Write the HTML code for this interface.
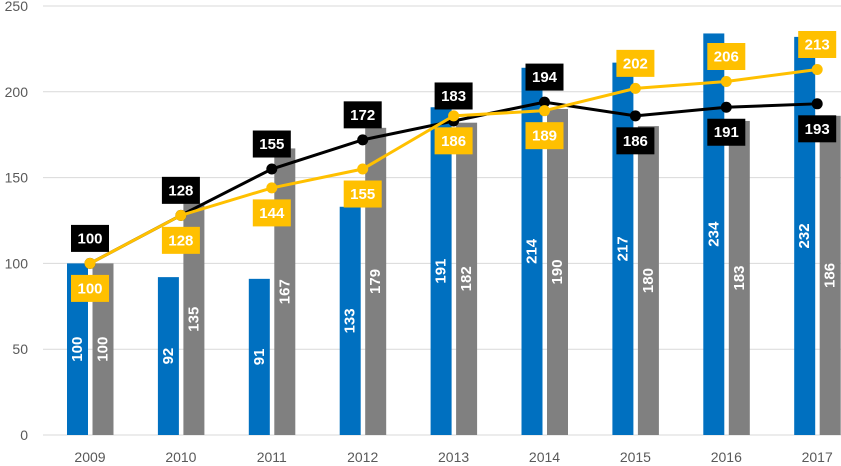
<!DOCTYPE html>
<html><head><meta charset="utf-8"><style>
html,body{margin:0;padding:0;background:#fff;}
svg{display:block;font-family:"Liberation Sans",Arial,sans-serif;}
</style></head><body>
<svg id="chart" width="841" height="466" viewBox="0 0 841 466"></svg>
<script>
const categories = ["2009","2010","2011","2012","2013","2014","2015","2016","2017"];
const blueValues = [100,92,91,133,191,214,217,234,232];
const grayValues = [100,135,167,179,182,190,180,183,186];
const blackLine = [100,128,155,172,183,194,186,191,193];
const goldLine = [100,128,144,155,186,189,202,206,213];
const yTicks = [0,50,100,150,200,250];

const svg = document.getElementById('chart');
const NS = 'http://www.w3.org/2000/svg';
const y0 = 435, yMax = 250, yTop = 6;
const x0 = 90, step = 90.9;
function yScale(v){ return y0 - v/yMax*(y0-yTop); }
function xScale(i){ return x0 + i*step; }
function mk(tag, attrs, parent){
  const e = document.createElementNS(NS, tag);
  for (const k in attrs) e.setAttribute(k, attrs[k]);
  (parent||svg).appendChild(e);
  return e;
}

yTicks.forEach(t=>{
  const g = mk('line',{x1:43,x2:841,y1:yScale(t),y2:yScale(t),stroke:'#d9d9d9','stroke-width':1});
  
  
  const tx = mk('text',{x:28,y:yScale(t)+5,'text-anchor':'end','font-size':14,fill:'#595959'});
  tx.textContent = t;
  
  
});

const bw = 21;
categories.forEach((c,i)=>{
  const cx = xScale(i);
  [[blueValues[i],'#0070c0',cx-23,'bar-blue-'],[grayValues[i],'#808080',cx+2.5,'bar-gray-']].forEach(([v,col,bx,nm])=>{
    const r = mk('rect',{x:bx,y:yScale(v),width:bw,height:y0-yScale(v),fill:col});
    
    
    const my = (yScale(v)+y0)/2, mx = bx+bw/2;
    const t = mk('text',{x:mx,y:my,'text-anchor':'middle','dominant-baseline':'central','font-size':15,'font-weight':'bold',fill:'#fff',transform:`rotate(-90 ${mx} ${my})`});
    t.textContent = v;
    
    
  });
  const xl = mk('text',{x:cx,y:462,'text-anchor':'middle','font-size':14,fill:'#595959'});
  xl.textContent = c;
  
  
});

function drawLine(vals,col,name){
  const pts = vals.map((v,i)=>xScale(i)+','+yScale(v)).join(' ');
  const pl = mk('polyline',{points:pts,fill:'none',stroke:col,'stroke-width':3});
  
  
  vals.forEach((v,i)=>{
    const c = mk('circle',{cx:xScale(i),cy:yScale(v),r:5.5,fill:col});
    
    
  });
}
drawLine(blackLine,'#000','black');
drawLine(goldLine,'#ffc000','gold');

function drawLabels(vals,col,name,isGold){
  vals.forEach((v,i)=>{
    const goldAbove = goldLine[i] - blackLine[i] > 5;
    const above = isGold ? goldAbove : !goldAbove;
    const cx = xScale(i), cy = yScale(v) + (above?-25:25);
    const r = mk('rect',{x:cx-19,y:cy-13.5,width:38,height:27,fill:col});
    
    
    const t = mk('text',{x:cx,y:cy+5,'text-anchor':'middle','font-size':15,'font-weight':'bold',fill:'#fff'});
    t.textContent = v;
    
    
  });
}
drawLabels(blackLine,'#000','black',false);
drawLabels(goldLine,'#ffc000','gold',true);
</script>
</body></html>
